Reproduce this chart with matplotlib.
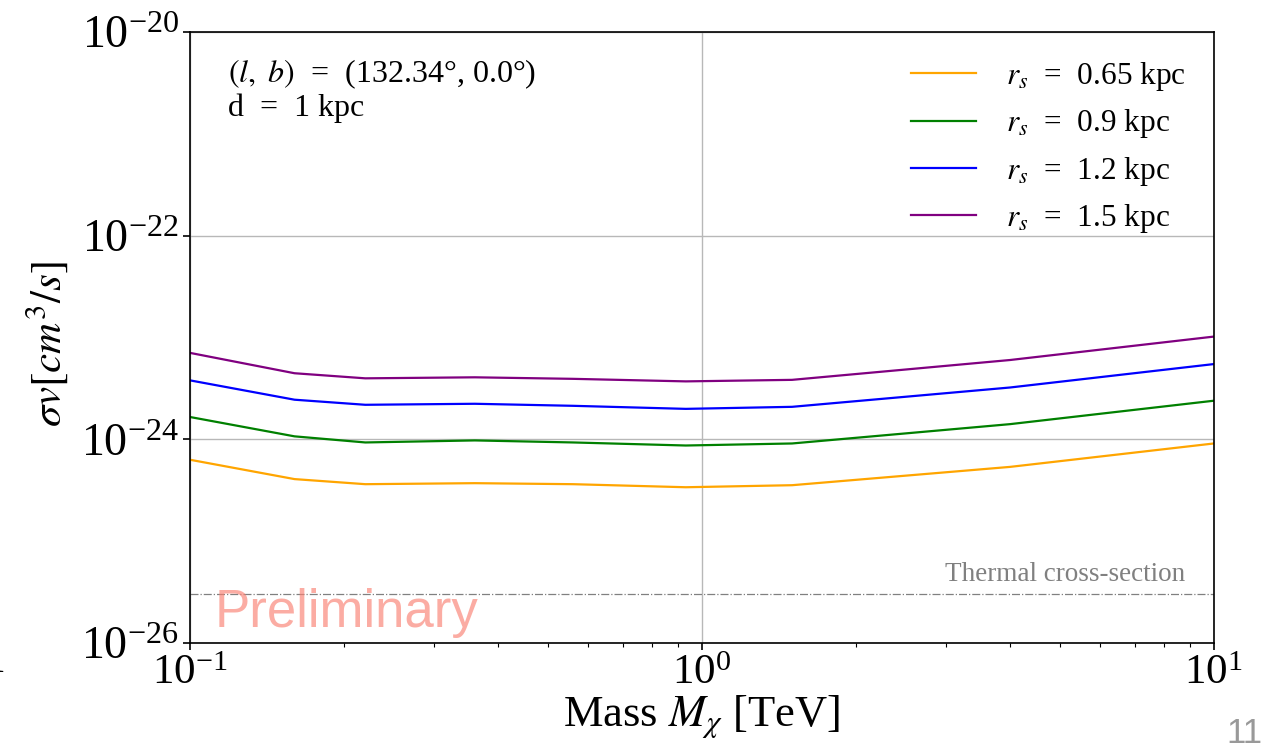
import numpy as np
import matplotlib
matplotlib.use('Agg')
import matplotlib.pyplot as plt

plt.rcParams['font.family'] = ['Liberation Serif', 'DejaVu Serif']
plt.rcParams['mathtext.fontset'] = 'stix'

# mass grid [TeV]
mass = [0.1, 0.16, 0.22, 0.36, 0.56, 0.93, 1.5, 4.0, 10.0]

# log10 of <sigma v> upper limits, one list per scale radius
log_sv_065 = [-24.20, -24.39, -24.44, -24.43, -24.44, -24.47, -24.45, -24.27, -24.04]
log_sv_09 = [-23.78, -23.97, -24.03, -24.01, -24.03, -24.06, -24.04, -23.85, -23.62]
log_sv_12 = [-23.42, -23.61, -23.66, -23.65, -23.67, -23.70, -23.68, -23.49, -23.26]
log_sv_15 = [-23.15, -23.35, -23.40, -23.39, -23.405, -23.43, -23.415, -23.22, -22.99]

labels = [r'$r_s$  =  0.65 kpc', r'$r_s$  =  0.9 kpc', r'$r_s$  =  1.2 kpc', r'$r_s$  =  1.5 kpc']
colors = ['orange', 'green', 'blue', 'purple']

thermal = 3e-26

fig = plt.figure(figsize=(12.71, 7.5), dpi=100)
ax = fig.add_axes([0.1495, 0.1427, 0.8055, 0.8143])

for vals, lab, c in zip([log_sv_065, log_sv_09, log_sv_12, log_sv_15], labels, colors):
    ax.plot(mass, 10 ** np.array(vals), color=c, lw=1.6, label=lab)

ax.axhline(thermal, color='gray', lw=0.9, ls='-.')
ax.text(0.972, 3.55e-26, 'Thermal cross-section', transform=ax.get_yaxis_transform(),
        ha='right', va='bottom', color='gray', fontsize=19.5)

ax.set_xscale('log')
ax.set_yscale('log')
ax.set_xlim(0.1, 10)
ax.set_ylim(1e-26, 1e-20)
ax.set_yticks([1e-26, 1e-24, 1e-22, 1e-20])
ax.yaxis.set_minor_locator(matplotlib.ticker.NullLocator())
ax.grid(True, which='major', color='#b8b8b8', lw=1.0)
ax.tick_params(axis='both', which='major', length=5, width=1.2)
ax.tick_params(axis='x', which='major', labelsize=31)
ax.tick_params(axis='y', which='major', labelsize=33, pad=3)
ax.tick_params(axis='x', which='minor', length=3, width=0.8)
for s in ax.spines.values():
    s.set_linewidth(1.2)

ax.set_xlabel(r'Mass $M_\chi$ [TeV]', fontsize=32, labelpad=0)
ax.set_ylabel(r'$\sigma v [cm^3/s]$', fontsize=31, labelpad=4)
ax.yaxis.set_label_coords(-0.117, 0.49)

ax.text(0.037, 0.958, r'$(l,\ b)$  =  (132.34°, 0.0°)', transform=ax.transAxes,
        ha='left', va='top', fontsize=23)
ax.text(0.037, 0.899, 'd  =  1 kpc', transform=ax.transAxes,
        ha='left', va='top', fontsize=23)

ax.legend(loc='upper right', frameon=False, fontsize=22.5, handlelength=2.1,
          handletextpad=0.95, labelspacing=0.45, borderaxespad=0.5)

ax.text(0.024, 0.008, 'Preliminary', transform=ax.transAxes, family='Liberation Sans',
        fontsize=38, color='salmon', alpha=0.65, ha='left', va='bottom')

fig.text(0.993, 0.0, '11', family='Liberation Sans', fontsize=25, color='#999999',
         ha='right', va='bottom')
fig.text(0.004, 0.118, '1', fontsize=30, color='black', ha='right', va='center')

fig.savefig('out.png', dpi=100)
